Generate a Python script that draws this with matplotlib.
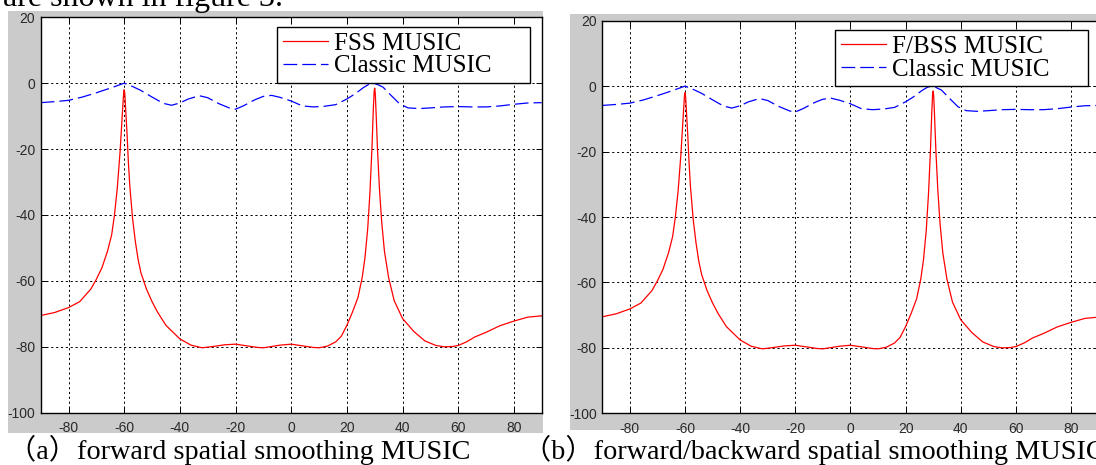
import numpy as np
import matplotlib
matplotlib.use('Agg')
import matplotlib.pyplot as plt
from matplotlib.patches import Rectangle
from matplotlib.lines import Line2D

plt.rcParams['axes.unicode_minus'] = False

# 角度 [deg]
ss_deg = [-90, -85, -80, -76, -72, -70, -68, -66, -64.5, -63.5, -62.5, -61.5, -61, -60.5, -60.2, -60,
          -59.8, -59.5, -59, -58.5, -58, -57, -56, -55, -54, -52, -50, -48, -45, -40, -36, -32, -28,
          -24, -20, -16, -12, -10, -7, -4, 0, 4, 8, 10, 13, 16, 18, 20, 22, 24, 25.5, 26.5, 27.5, 28.3,
          29, 29.5, 29.8, 30, 30.2, 30.5, 31, 31.7, 32.5, 33.5, 35, 37, 40, 44, 48, 52, 55, 58, 60, 63,
          66, 70, 75, 80, 85, 90]
# 空間平均MUSIC（FSS / F-BSS はほぼ同じ形）
ss_db = [-70.5, -69.6, -68.1, -66.3, -62.5, -59.5, -56.0, -51.0, -46.0, -40.0, -32.0, -21.0, -14.0,
         -7.0, -3.0, -2.0, -3.0, -7.5, -15.0, -24.0, -31.0, -41.0, -48.0, -53.5, -57.5, -62.5, -66.3,
         -69.5, -73.5, -77.6, -79.5, -80.3, -79.9, -79.4, -79.2, -79.7, -80.2, -80.3, -79.9, -79.5,
         -79.2, -79.7, -80.2, -80.3, -79.8, -78.5, -76.8, -73.5, -69.5, -65.0, -59.0, -53.0, -44.0,
         -33.0, -20.0, -8.0, -2.5, -1.5, -3.0, -9.0, -20.0, -32.0, -42.0, -51.0, -59.0, -66.0, -71.4,
         -75.3, -78.2, -79.6, -80.0, -79.9, -79.6, -78.5, -77.0, -75.6, -73.6, -72.2, -71.0, -70.6]

classic_deg = [-90, -85, -80, -75, -70, -65, -60, -57, -54, -50, -46, -43, -40, -37, -33, -30, -26,
               -22, -20, -17, -13, -10, -7, -4, 0, 4, 8, 12, 16, 20, 23, 26, 28, 29.5, 31, 33, 36, 39,
               42, 46, 50, 55, 60, 65, 70, 75, 80, 85, 90]
classic_db = [-5.9, -5.6, -5.2, -4.2, -2.9, -1.5, 0.0, -1.0, -2.2, -4.2, -6.1, -6.7, -6.0, -4.8,
              -3.8, -4.4, -6.2, -7.6, -7.9, -6.8, -5.0, -4.0, -3.7, -4.3, -5.4, -6.9, -7.2, -7.0,
              -6.5, -4.8, -3.2, -1.3, -0.3, 0.0, -0.4, -1.2, -3.8, -6.3, -7.5, -7.7, -7.5, -7.2,
              -7.1, -7.2, -7.2, -6.9, -6.4, -6.0, -5.9]

x_ticks = [-80, -60, -40, -20, 0, 20, 40, 60, 80]
y_ticks = [-100, -80, -60, -40, -20, 0, 20]

W, H = 1096, 465
GRAY = '#cbcbcb'
SERIF = ['Liberation Serif', 'Noto Sans CJK SC']


def px_rect(x0, y0, x1, y1):
    # ピクセル座標(左上原点) -> figure座標
    return [x0 / W, 1 - y1 / H, (x1 - x0) / W, (y1 - y0) / H]


def draw_panel(fig, ax_box, gray_box, leg_box, ss_label):
    g = px_rect(*gray_box)
    fig.add_artist(Rectangle(g[:2], g[2], g[3], transform=fig.transFigure,
                             facecolor=GRAY, edgecolor='none', zorder=-1))
    ax = fig.add_axes(px_rect(*ax_box))
    ax.plot(ss_deg, ss_db, color='#ff0000', lw=0.9)
    ax.plot(classic_deg, classic_db, color='#0000ff', lw=0.9, dashes=(11, 4))
    ax.set_xlim(-90, 90)
    ax.set_ylim(-100, 20)
    ax.set_xticks(x_ticks)
    ax.set_yticks(y_ticks)
    ax.grid(True, color='black', linestyle=(0, (2.2, 2.8)), linewidth=0.7)
    ax.tick_params(direction='in', length=4, width=0.7, top=True, right=True,
                   labelsize=10, labelcolor='#2a2a2a')
    ax.tick_params(axis='x', pad=6)
    ax.tick_params(axis='y', pad=4)
    for lab in ax.get_xticklabels() + ax.get_yticklabels():
        lab.set_family('Liberation Sans')
    for s in ax.spines.values():
        s.set_linewidth(1.0)

    handles = [Line2D([], [], color='#ff0000', lw=0.9),
               Line2D([], [], color='#0000ff', lw=0.9, dashes=(11, 4))]
    r = px_rect(*leg_box)
    leg = ax.legend(handles, [ss_label, 'Classic MUSIC'], loc='upper left',
                    bbox_to_anchor=(r[0], r[1] + r[3], r[2], 0), bbox_transform=fig.transFigure,
                    mode='expand', prop={'family': 'Liberation Serif', 'size': 18},
                    fancybox=False, edgecolor='black', framealpha=1, borderpad=0.22,
                    labelspacing=0, handlelength=1.8, handletextpad=0.25, borderaxespad=0)
    leg.get_frame().set_linewidth(1.0)
    return ax


fig = plt.figure(figsize=(W / 100, H / 100), dpi=100)
fig.patch.set_facecolor('white')

draw_panel(fig, (40.7, 17.3, 541.7, 412.7), (8.3, 11, 543.3, 432.7),
           (277, 27, 530, 77), 'FSS MUSIC')
draw_panel(fig, (602.3, 20.7, 1098.6, 413.3), (570, 14, 1096, 430),
           (835, 30, 1088, 80), 'F/BSS MUSIC')

# 本文の一部（上端で切れている）
fig.text(3 / W, 1 - 6 / H, 'are shown in figure 3.', family=SERIF, fontsize=23, va='baseline')

# キャプション
fig.text(8 / W, 1 - 459 / H, '（a）forward spatial smoothing MUSIC', family=SERIF,
         fontsize=20.3, va='baseline')
fig.text(523 / W, 1 - 459 / H, '（b）forward/backward spatial smoothing MUSIC', family=SERIF,
         fontsize=20.3, va='baseline')

fig.savefig('out.png', dpi=100, facecolor='white')
